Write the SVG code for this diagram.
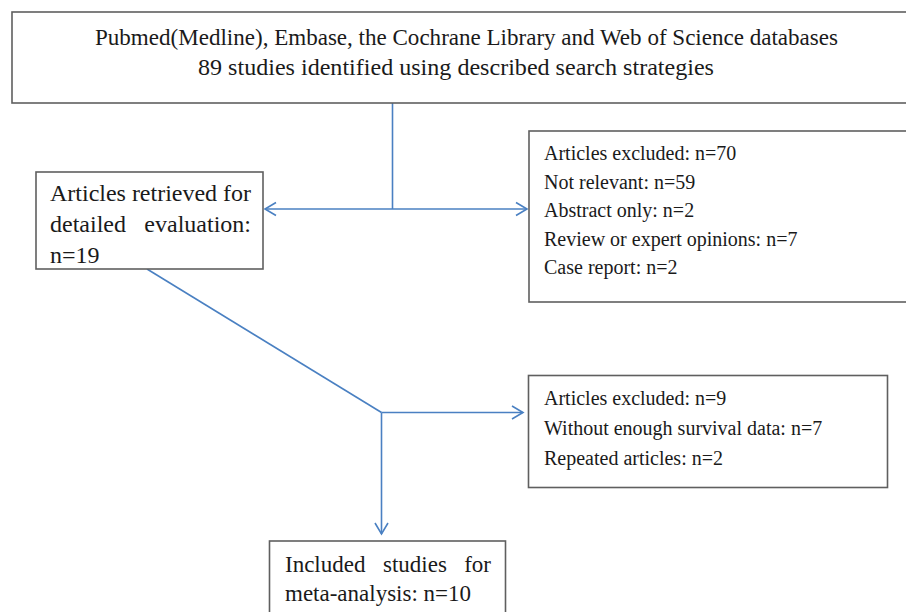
<svg xmlns="http://www.w3.org/2000/svg" width="906" height="612" viewBox="0 0 906 612">
<defs>
<style>
.box{fill:#fff;stroke:#5f5f5f;stroke-width:1.6}
.t{font-family:"Liberation Serif","Times New Roman",serif;fill:#1a1a1a}
.c{fill:none;stroke:#4a80c2;stroke-width:1.6}
</style>
<marker id="arr" viewBox="-13 -8 15 16" refX="0" refY="0" markerWidth="15" markerHeight="16" markerUnits="userSpaceOnUse" orient="auto-start-reverse">
<path d="M-11,-6.5 L0,0 L-11,6.5" fill="none" stroke="#4a80c2" stroke-width="1.6"/>
</marker>
</defs>
<rect width="906" height="612" fill="#fff"/>
<g id="connectors">
<path class="c" d="M392.5,103 V209"/>
<path class="c" d="M265,209 H527" marker-start="url(#arr)" marker-end="url(#arr)"/>
<path class="c" d="M147,269 L381.5,412.5"/>
<path class="c" d="M381.5,412.5 H523" marker-end="url(#arr)"/>
<path class="c" d="M381.5,412.5 V534" marker-end="url(#arr)"/>
</g>
<g id="search">
<rect class="box" x="12" y="12" width="910" height="91"/>
<text class="t" x="95" y="45" font-size="23" textLength="743" lengthAdjust="spacingAndGlyphs">Pubmed(Medline), Embase, the Cochrane Library and Web of Science databases</text>
<text class="t" x="198" y="75" font-size="23" textLength="516" lengthAdjust="spacingAndGlyphs">89 studies identified using described search strategies</text>
</g>
<g id="retrieved">
<rect class="box" x="36" y="172" width="227" height="97"/>
<text class="t" x="50" y="201" font-size="24" textLength="201" lengthAdjust="spacing">Articles retrieved for</text>
<text class="t" x="50" y="232" font-size="24">detailed</text>
<text class="t" x="251" y="232" font-size="24" text-anchor="end">evaluation:</text>
<text class="t" x="50" y="263" font-size="24">n=19</text>
</g>
<g id="excluded1">
<rect class="box" x="529" y="131" width="400" height="171"/>
<g class="t" font-size="20">
<text x="544" y="160">Articles excluded: n=70</text>
<text x="544" y="189">Not relevant: n=59</text>
<text x="544" y="217">Abstract only: n=2</text>
<text x="544" y="246">Review or expert opinions: n=7</text>
<text x="544" y="274">Case report: n=2</text>
</g>
</g>
<g id="excluded2">
<rect class="box" x="528.5" y="375.5" width="359" height="112"/>
<g class="t" font-size="20">
<text x="544" y="405">Articles excluded: n=9</text>
<text x="544" y="435">Without enough survival data: n=7</text>
<text x="544" y="465">Repeated articles: n=2</text>
</g>
</g>
<g id="included">
<rect class="box" x="269.5" y="541" width="236" height="80"/>
<g class="t" font-size="23">
<text x="285" y="572">Included</text>
<text x="383" y="572">studies</text>
<text x="491" y="572" text-anchor="end">for</text>
<text x="285" y="601">meta-analysis: n=10</text>
</g>
</g>
</svg>
